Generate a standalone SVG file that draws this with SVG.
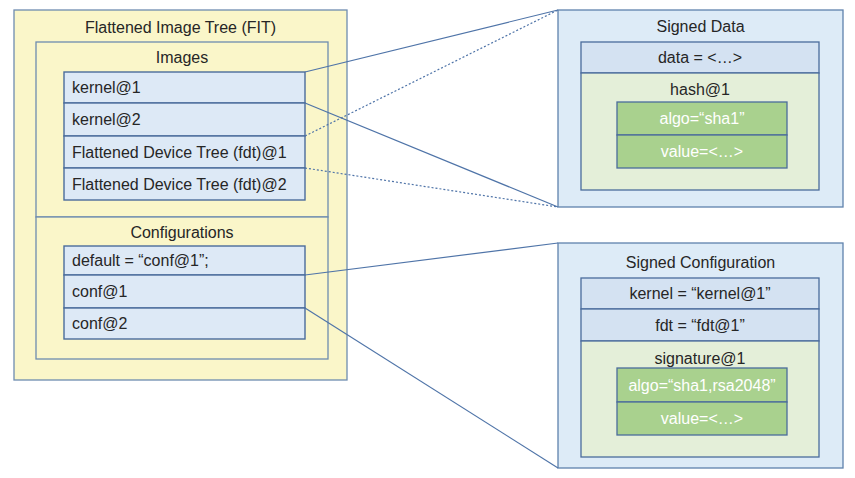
<svg xmlns="http://www.w3.org/2000/svg" width="855" height="478" viewBox="0 0 855 478">
<style>
text{font-family:"Liberation Sans",Arial,sans-serif;font-size:16px;fill:#262626}
.c{text-anchor:middle}
.w{fill:#ffffff}
.yel{fill:#faf6c9;stroke:#6e8cb0;stroke-width:1.3}
.item{fill:#dde9f6;stroke:#4a6c9c;stroke-width:1.4}
.sig{fill:#ddebf7;stroke:#5f82ad;stroke-width:1.3}
.row{fill:#d4e2f2;stroke:#4a6c9c;stroke-width:1.3}
.lg{fill:#e4efd9;stroke:#4a6c9c;stroke-width:1.3}
.gr{fill:#a9d18e;stroke:#4a6c9c;stroke-width:1.3}
.ln{stroke:#4f74a8;stroke-width:1.2;fill:none}
.dt{stroke-dasharray:2 2}
</style>
<g id="fit">
<rect class="yel" x="14" y="10" width="333" height="370"/>
<text class="c" x="180.5" y="32.5">Flattened Image Tree (FIT)</text>
</g>
<g id="images">
<rect class="yel" x="36" y="42" width="292" height="175"/>
<text class="c" x="182" y="62.5">Images</text>
</g>
<g id="kernel1"><rect class="item" x="64" y="72" width="241" height="31"/><text x="72" y="93">kernel@1</text></g>
<g id="kernel2"><rect class="item" x="64" y="103" width="241" height="33"/><text x="72" y="125">kernel@2</text></g>
<g id="fdt1"><rect class="item" x="64" y="136" width="241" height="32"/><text x="72" y="157.5">Flattened Device Tree (fdt)@1</text></g>
<g id="fdt2"><rect class="item" x="64" y="168" width="241" height="32"/><text x="72" y="189.5">Flattened Device Tree (fdt)@2</text></g>
<g id="configurations">
<rect class="yel" x="36" y="217" width="292" height="142"/>
<text class="c" x="182" y="237.5">Configurations</text>
</g>
<g id="default"><rect class="item" x="64" y="246" width="241" height="29"/><text x="72" y="266">default = “conf@1”;</text></g>
<g id="conf1"><rect class="item" x="64" y="275" width="241" height="33"/><text x="72" y="297">conf@1</text></g>
<g id="conf2"><rect class="item" x="64" y="308" width="241" height="31"/><text x="72" y="329">conf@2</text></g>

<g id="signed-data">
<rect class="sig" x="558" y="10" width="285" height="197"/>
<text class="c" x="700.5" y="31.5">Signed Data</text>
<rect class="row" x="581" y="42" width="238" height="31"/>
<text class="c" x="700" y="63">data = &lt;…&gt;</text>
<rect class="lg" x="581" y="73" width="238" height="117"/>
<text class="c" x="700" y="94.5">hash@1</text>
<rect class="gr" x="617" y="102" width="170" height="33"/>
<text class="c w" x="702" y="124">algo=“sha1”</text>
<rect class="gr" x="617" y="135" width="170" height="33"/>
<text class="c w" x="702" y="157">value=&lt;…&gt;</text>
</g>

<g id="signed-configuration">
<rect class="sig" x="558" y="243" width="285" height="225"/>
<text class="c" x="700.5" y="267.5">Signed Configuration</text>
<rect class="row" x="581" y="278" width="238" height="31"/>
<text class="c" x="700" y="299">kernel = “kernel@1”</text>
<rect class="row" x="581" y="309" width="238" height="32"/>
<text class="c" x="700" y="330.5">fdt = “fdt@1”</text>
<rect class="lg" x="581" y="341" width="238" height="116"/>
<text class="c" x="700" y="363.5">signature@1</text>
<rect class="gr" x="617" y="368" width="170" height="34"/>
<text class="c w" x="702" y="390.5">algo=“sha1,rsa2048”</text>
<rect class="gr" x="617" y="402" width="170" height="33"/>
<text class="c w" x="702" y="424">value=&lt;…&gt;</text>
</g>

<g id="connectors">
<line class="ln" x1="305" y1="72" x2="558" y2="10"/>
<line class="ln" x1="305" y1="103" x2="558" y2="207"/>
<line class="ln dt" x1="305" y1="136" x2="558" y2="10"/>
<line class="ln dt" x1="305" y1="168" x2="558" y2="207"/>
<line class="ln" x1="305" y1="275" x2="558" y2="243"/>
<line class="ln" x1="305" y1="308" x2="558" y2="468"/>
</g>
</svg>
